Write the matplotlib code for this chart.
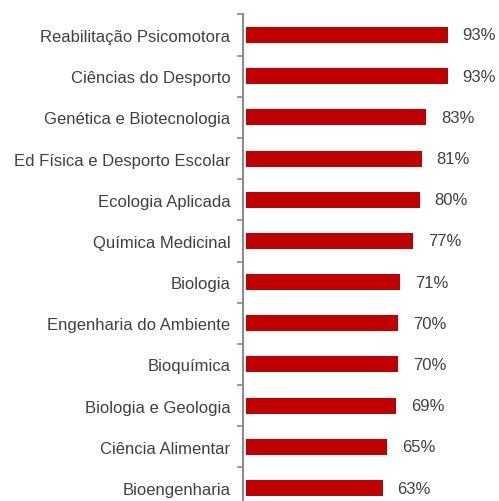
import matplotlib.pyplot as plt
import numpy as np

# course names, top to bottom
cursos = ['Reabilitação Psicomotora', 'Ciências do Desporto', 'Genética e Biotecnologia',
          'Ed Física e Desporto Escolar', 'Ecologia Aplicada', 'Química Medicinal',
          'Biologia', 'Engenharia do Ambiente', 'Bioquímica', 'Biologia e Geologia',
          'Ciência Alimentar', 'Bioengenharia']
valores = [93, 93, 83, 81, 80, 77, 71, 70, 70, 69, 65, 63]

plt.rcParams['font.family'] = ['Liberation Sans', 'DejaVu Sans']

fig = plt.figure(figsize=(4.99, 5.02), dpi=100)
ax = fig.add_axes([243 / 499, -7.6 / 502, 256 / 499, 494.2 / 502])

y = np.arange(len(cursos))
ax.barh(y, valores, height=0.39, color='#C00000')

for yi, v in zip(y, valores):
    ax.text(v + 6.8, yi, f'{v}%', va='center', ha='left', fontsize=12, color='#404040')

ax.set_xlim(-1.4, 116.5)
ax.set_ylim(len(cursos) - 0.5, -0.5)
ax.set_yticks(y)
ax.set_yticklabels(cursos, fontsize=12, color='#404040')
ax.set_yticks(np.arange(-0.5, len(cursos)), minor=True)
ax.tick_params(axis='y', which='major', length=0, pad=9)
ax.tick_params(axis='y', which='minor', length=4, width=1.2, color='#8c8c8c', direction='out')
ax.set_xticks([])

for s in ['top', 'right', 'bottom']:
    ax.spines[s].set_visible(False)
ax.spines['left'].set_color('#8c8c8c')
ax.spines['left'].set_linewidth(1.5)

fig.savefig('out.png', dpi=100)
